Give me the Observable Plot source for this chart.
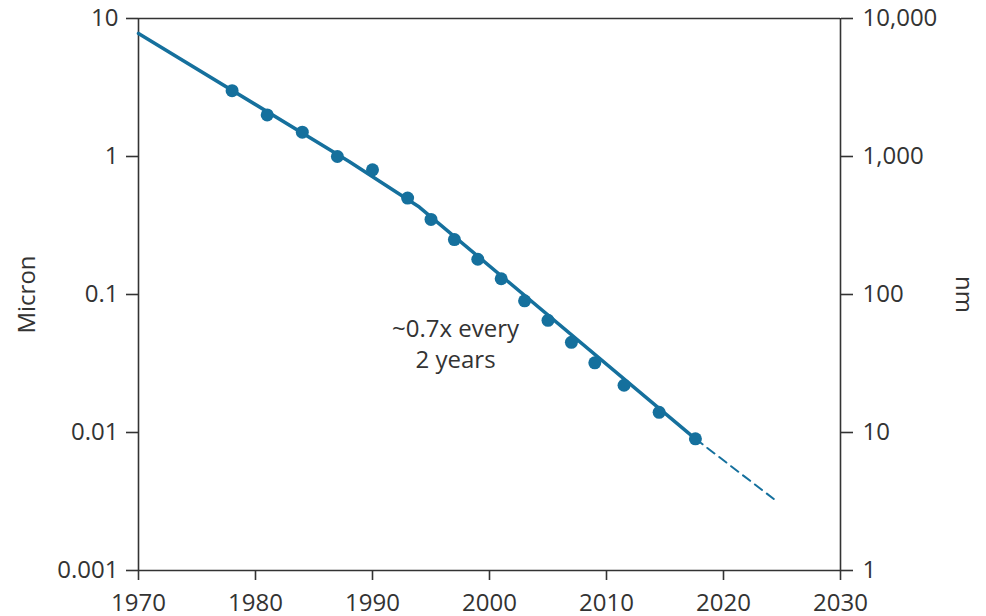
<!DOCTYPE html>
<html><head><meta charset="utf-8">
<script src="https://cdn.jsdelivr.net/npm/d3@7"></script>
<script src="https://cdn.jsdelivr.net/npm/@observablehq/plot@0.6"></script>
<style>body{margin:0;background:#fff}</style>
</head><body><div id="chart"></div>
<script>
// Measured node sizes (micron)
const years = [1978, 1981, 1984, 1987, 1990, 1993, 1995, 1997, 1999, 2001, 2003, 2005, 2007, 2009, 2011.5, 2014.5, 2017.6];
const microns = [3, 2, 1.5, 1, 0.8, 0.5, 0.35, 0.25, 0.18, 0.13, 0.09, 0.065, 0.045, 0.032, 0.022, 0.014, 0.009];
// Trend line (solid) and projection (dashed)
const trendYears = [1970, 1988, 1994, 2017.6];
const trendMicrons = [7.8, 0.92, 0.43, 0.009];
const projYears = [2017.6, 2024.3];
const projMicrons = [0.009, 0.0033];
// Ticks
const xTicks = [1970, 1980, 1990, 2000, 2010, 2020, 2030];
const yTicks = [0.001, 0.01, 0.1, 1, 10];
const yTickLabels = ["0.001", "0.01", "0.1", "1", "10"];
const nmTickLabels = ["1", "10", "100", "1,000", "10,000"];
const annotation = "~0.7x every\n2 years";

const color = "#15709d";
const ink = "#333333";

const pts = years.map((x, i) => ({x, y: microns[i]}));
const trend = trendYears.map((x, i) => ({x, y: trendMicrons[i]}));
const proj = projYears.map((x, i) => ({x, y: projMicrons[i]}));
const leftLab = new Map(yTicks.map((t, i) => [t, yTickLabels[i]]));
const rightLab = new Map(yTicks.map((t, i) => [t, nmTickLabels[i]]));

const chart = Plot.plot({
  width: 986,
  height: 616,
  marginLeft: 138,
  marginRight: 146,
  marginTop: 18,
  marginBottom: 46,
  style: {fontFamily: "'Open Sans', sans-serif", fontSize: "24px", color: ink, background: "#fff", overflow: "visible"},
  x: {domain: [1970, 2030]},
  y: {type: "log", domain: [0.001, 10]},
  marks: [
    Plot.ruleY([0.001, 10], {stroke: ink, strokeWidth: 1.6}),
    Plot.ruleX([1970, 2030], {stroke: ink, strokeWidth: 1.6}),
    Plot.axisX({ticks: xTicks, tickFormat: d => String(d), tickSize: 10, tickPadding: 13, stroke: ink, strokeWidth: 1.6, label: null, fontSize: 24}),
    Plot.axisY({anchor: "left", ticks: yTicks, tickFormat: d => leftLab.get(d), tickSize: 12, tickPadding: 8, stroke: ink, strokeWidth: 1.6, label: null, fontSize: 24}),
    Plot.axisY({anchor: "right", ticks: yTicks, tickFormat: d => rightLab.get(d), tickSize: 12, tickPadding: 10, stroke: ink, strokeWidth: 1.6, label: null, fontSize: 24}),
    Plot.line(trend, {x: "x", y: "y", stroke: color, strokeWidth: 3.5}),
    Plot.line(proj, {x: "x", y: "y", stroke: color, strokeWidth: 2, strokeDasharray: "9,6"}),
    Plot.dot(pts, {x: "x", y: "y", r: 6.5, fill: color}),
    Plot.text([annotation], {x: () => 1997.1, y: () => 0.045, text: d => d, lineHeight: 1.3, fill: ink, fontSize: 24}),
    Plot.text(["Micron"], {frameAnchor: "left", dx: -111, rotate: -90, textAnchor: "middle", lineAnchor: "middle", fill: ink, fontSize: 24}),
    Plot.text(["nm"], {frameAnchor: "right", dx: 123, rotate: 90, textAnchor: "middle", lineAnchor: "middle", fill: ink, fontSize: 24})
  ]
});
document.getElementById("chart").appendChild(chart);
</script>
</body></html>
